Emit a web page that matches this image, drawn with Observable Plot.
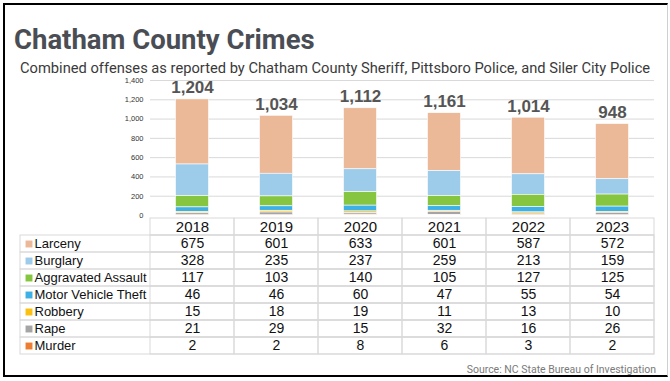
<!DOCTYPE html>
<html>
<head>
<meta charset="utf-8">
<script src="https://cdn.jsdelivr.net/npm/d3@7"></script>
<script src="https://cdn.jsdelivr.net/npm/@observablehq/plot@0.6"></script>
<style>
  html, body { margin: 0; padding: 0; background: #fff; }
  body { width: 670px; height: 381px; overflow: hidden; position: relative; font-family: "Liberation Sans", Arial, sans-serif; }
  #frame { position: absolute; left: 3px; top: 3px; width: 665px; height: 374px; border: 2px solid #000; border-right: 1px solid #cfcfcf; box-sizing: border-box; }
  #title { position: absolute; left: 14px; top: 26px; font-family: Roboto, sans-serif; font-weight: 700; font-size: 27.5px; line-height: 1; color: #4a4e54; white-space: nowrap; }
  #subtitle { position: absolute; left: 20px; top: 61px; font-family: Roboto, sans-serif; font-size: 14.7px; line-height: 1; color: #3a3a3a; white-space: nowrap; }
  #chart { position: absolute; left: 0; top: 70px; }
  #table { position: absolute; left: 0; top: 214px; }
  #source { position: absolute; right: 14px; top: 365px; font-family: Roboto, sans-serif; font-size: 10.5px; line-height: 1; color: #7a7a7a; white-space: nowrap; }
  svg { overflow: visible; }
</style>
</head>
<body>
<div id="frame"></div>
<div id="title">Chatham County Crimes</div>
<div id="subtitle">Combined offenses as reported by Chatham County Sheriff, Pittsboro Police, and Siler City Police</div>
<div id="chart"></div>
<div id="table"></div>
<div id="source">Source: NC State Bureau of Investigation</div>
<script>
const years = ["2018", "2019", "2020", "2021", "2022", "2023"];
const categories = ["Larceny", "Burglary", "Aggravated Assault", "Motor Vehicle Theft", "Robbery", "Rape", "Murder"];
const larceny = [675, 601, 633, 601, 587, 572];
const burglary = [328, 235, 237, 259, 213, 159];
const aggravatedAssault = [117, 103, 140, 105, 127, 125];
const motorVehicleTheft = [46, 46, 60, 47, 55, 54];
const robbery = [15, 18, 19, 11, 13, 10];
const rape = [21, 29, 15, 32, 16, 26];
const murder = [2, 2, 8, 6, 3, 2];
// Total labels as printed above the bars in the original graphic
const totalLabels = [1204, 1034, 1112, 1161, 1014, 948];
const yTicks = [0, 200, 400, 600, 800, 1000, 1200, 1400];
const colors = ["#ebb898", "#9dcbea", "#86c540", "#3db1e6", "#fcc010", "#a5a5a5", "#ed7d31"];

const series = [larceny, burglary, aggravatedAssault, motorVehicleTheft, robbery, rape, murder];
const rows = [];
categories.forEach((c, i) => years.forEach((y, j) => rows.push({category: c, year: y, value: series[i][j]})));
const totals = years.map((y, j) => ({year: y, top: d3.sum(series, s => s[j]), label: totalLabels[j]}));
const stackOrder = categories.slice().reverse();
const colorScale = {domain: categories, range: colors};
const fmt = d3.format(",");

const chart = Plot.plot({
  width: 670, height: 150,
  marginLeft: 150, marginRight: 16, marginTop: 10, marginBottom: 5,
  x: {domain: years, padding: 0, axis: null},
  y: {domain: [0, 1400], axis: null},
  color: colorScale,
  style: {fontFamily: "'Liberation Sans', Arial, sans-serif", background: "transparent"},
  marks: [
    Plot.ruleY(yTicks.filter(d => d > 0), {stroke: "#d9d9d9", strokeWidth: 1}),
    Plot.axisY({ticks: yTicks, tickSize: 0, tickPadding: 7, tickFormat: fmt, fontSize: 7.5, fill: "#333", label: null}),
    Plot.barY(rows, {x: "year", y: "value", fill: "category", order: stackOrder, insetLeft: 25.5, insetRight: 25.5, stroke: "#fff", strokeWidth: 0.6}),
    Plot.text(totals, {x: "year", y: "top", text: d => fmt(d.label), lineAnchor: "bottom", dy: -6, fontSize: 17, fontWeight: "bold", fill: "#555"})
  ]
});
document.getElementById("chart").append(chart);

const rowDomain = [""].concat(categories);
const cells = [];
rowDomain.forEach(r => years.forEach(y => cells.push({row: r, year: y})));

const table = Plot.plot({
  width: 670, height: 145,
  marginLeft: 20, marginRight: 16, marginTop: 1, marginBottom: 2.3,
  x: {domain: years, range: [150, 654], padding: 0, axis: null},
  y: {domain: rowDomain, padding: 0, axis: null},
  color: colorScale,
  style: {fontFamily: "'Liberation Sans', Arial, sans-serif", background: "transparent"},
  marks: [
    Plot.cell(categories, {y: d => d, fill: "none", stroke: "#d9d9d9"}),
    Plot.cell(cells, {x: "year", y: "row", fill: "none", stroke: "#d9d9d9"}),
    Plot.text(years, {x: d => d, y: () => "", text: d => d, fontSize: 15, fill: "#111"}),
    Plot.text(rows, {x: "year", y: "category", text: d => String(d.value), fontSize: 14, fill: "#111"}),
    Plot.dot(categories, {y: d => d, fill: d => d, symbol: "square", r: 3.9, frameAnchor: "left", dx: 8.5}),
    Plot.text(categories, {y: d => d, text: d => d, frameAnchor: "left", textAnchor: "start", dx: 14, fontSize: 13, fill: "#111"})
  ]
});
document.getElementById("table").append(table);
</script>
</body>
</html>
